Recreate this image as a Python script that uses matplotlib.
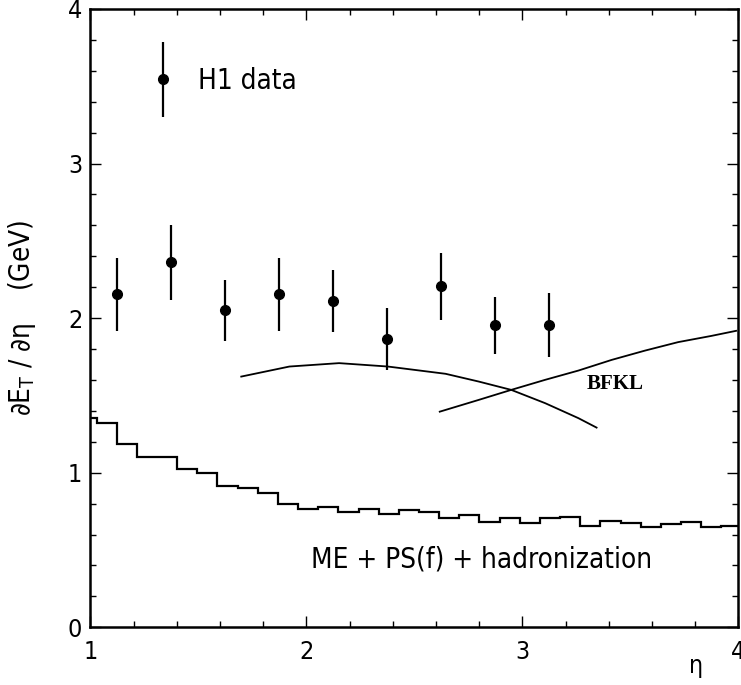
"""
Transverse energy flow dE_T/d(eta) -- H1 data vs BFKL and ME+PS(f) model.
"""
import matplotlib
matplotlib.use("Agg")
import matplotlib.pyplot as plt
from matplotlib import font_manager
from matplotlib.ticker import MultipleLocator
from matplotlib.container import ErrorbarContainer
from matplotlib.legend_handler import HandlerErrorbar

# ── Data ──────────────────────────────────────────────────────────────────────
ETA = [1.125, 1.375, 1.625, 1.875, 2.125, 2.375, 2.625, 2.875, 3.125]
DET = [2.155, 2.36, 2.05, 2.155, 2.11, 1.865, 2.205, 1.955, 1.955]
DET_ERR = [0.235, 0.24, 0.20, 0.235, 0.20, 0.203, 0.215, 0.185, 0.205]

# BFKL curves (two calculations)
BFKL_A_ETA = [1.698, 1.921, 2.151, 2.377, 2.644, 2.797, 2.948, 3.105, 3.259, 3.343]
BFKL_A_VAL = [1.622, 1.687, 1.709, 1.687, 1.640, 1.590, 1.536, 1.450, 1.353, 1.292]
BFKL_B_ETA = [2.617, 2.797, 2.948, 3.105, 3.259, 3.413, 3.567, 3.721, 3.874, 3.989]
BFKL_B_VAL = [1.395, 1.471, 1.536, 1.601, 1.661, 1.730, 1.790, 1.845, 1.885, 1.918]

# ME + PS(f) + hadronization histogram
HIST_EDGES = [1.0, 1.028, 1.121, 1.214, 1.308, 1.401, 1.494, 1.588, 1.681, 1.774,
              1.868, 1.961, 2.054, 2.148, 2.241, 2.334, 2.428, 2.521, 2.614, 2.708,
              2.801, 2.894, 2.988, 3.081, 3.174, 3.268, 3.361, 3.454, 3.548, 3.641,
              3.734, 3.828, 3.921, 4.0]
HIST_VALS = [1.357, 1.324, 1.186, 1.104, 1.104, 1.025, 1.001, 0.915, 0.904, 0.867,
             0.796, 0.768, 0.781, 0.744, 0.766, 0.736, 0.759, 0.748, 0.709, 0.727,
             0.684, 0.705, 0.673, 0.705, 0.716, 0.656, 0.690, 0.673, 0.649, 0.667,
             0.684, 0.649, 0.658]


def pick_font():
    """Prefer a narrow sans face, like the original plotting package."""
    fonts = font_manager.fontManager.ttflist
    names = {f.name for f in fonts}
    if "Liberation Sans Narrow" in names:
        return "Liberation Sans Narrow", "normal", 20
    if any(f.name == "DejaVu Sans" and f.stretch == "condensed" for f in fonts):
        return "DejaVu Sans", "condensed", 18
    return "DejaVu Sans", "normal", 16


FONT, STRETCH, FS = pick_font()
TEXT_FS = FS + 2
plt.rcParams["font.family"] = [FONT, "DejaVu Sans"]
plt.rcParams["font.stretch"] = STRETCH
plt.rcParams["mathtext.fontset"] = "custom"
plt.rcParams["mathtext.rm"] = FONT
plt.rcParams["mathtext.it"] = FONT

fig = plt.figure(figsize=(7.41, 6.85), dpi=100)
ax = fig.add_axes([0.1221, 0.0842, 0.8745, 0.9027])

# data points
ax.errorbar(ETA, DET, yerr=DET_ERR, fmt="o", color="black", ms=7,
            elinewidth=1.6, capsize=0, label="H1 data")

# model curves
ax.plot(BFKL_A_ETA, BFKL_A_VAL, color="black", lw=1.3)
ax.plot(BFKL_B_ETA, BFKL_B_VAL, color="black", lw=1.3)
ax.stairs(HIST_VALS, HIST_EDGES, color="black", lw=1.6, baseline=None)

ax.text(3.296, 1.575, "BFKL", family=["Liberation Serif", "DejaVu Serif"],
        fontweight="bold", fontsize=15, stretch="normal", va="center")
ax.text(2.022, 0.436, "ME + PS(f) + hadronization", fontsize=TEXT_FS, va="center")

leg = ax.legend(loc="upper left", bbox_to_anchor=(0.052, 0.9465), frameon=False,
                fontsize=TEXT_FS, handlelength=1.0, handletextpad=0.75,
                handler_map={ErrorbarContainer: HandlerErrorbar(xerr_size=0.5, yerr_size=1.35)})

# axes
ax.set_xlim(1, 4)
ax.set_ylim(0, 4)
ax.xaxis.set_major_locator(MultipleLocator(1))
ax.xaxis.set_minor_locator(MultipleLocator(0.2))
ax.yaxis.set_major_locator(MultipleLocator(1))
ax.yaxis.set_minor_locator(MultipleLocator(0.2))
ax.tick_params(which="both", direction="in", top=True, right=True, width=1.0)
ax.tick_params(which="major", length=8, labelsize=FS)
ax.tick_params(which="minor", length=4.5)
ax.tick_params(axis="x", which="major", pad=9)
ax.tick_params(axis="y", which="major", pad=6)
for s in ax.spines.values():
    s.set_linewidth(1.8)

fig.text(22 / 741, 1 - 318 / 685, r"$\partial E_T\ /\ \partial\eta$    (GeV)",
         rotation=90, ha="center", va="center", fontsize=FS + 2)
fig.text(695 / 741, 1 - 668 / 685, r"$\eta$", ha="center", va="center", fontsize=FS)

plt.savefig("out.png", dpi=100)
plt.close()
